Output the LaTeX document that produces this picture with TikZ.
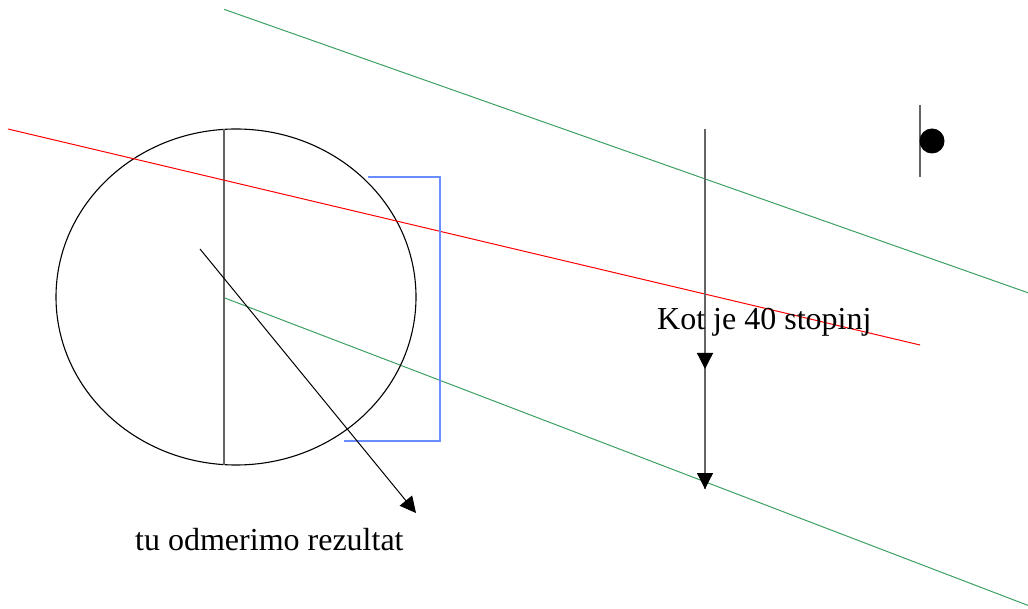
\documentclass[tikz,border=0pt]{standalone}
\usepackage{fontspec}
\setmainfont{Liberation Serif}
\usetikzlibrary{arrows.meta}
\definecolor{lgreen}{RGB}{60,160,100}
\definecolor{lblue}{RGB}{105,140,255}
\definecolor{lgrey}{RGB}{100,100,100}
\tikzset{
  greenline/.style={draw=lgreen, line width=1pt},
  redline/.style={draw=red, line width=1pt},
  blueline/.style={draw=lblue, line width=1.2pt},
  greyline/.style={draw=lgrey, line width=1.3pt},
  blackline/.style={draw=black, line width=1.1pt},
  tip/.style={-{Triangle[length=16pt,width=16pt,color=black]}},
  label/.style={inner sep=0pt, anchor=base west, font=\fontsize{32}{38}\selectfont}
}
\begin{document}
\begin{tikzpicture}[x=1pt,y=-1pt]
\useasboundingbox (0,0) rectangle (1028,609);
\clip (0,0) rectangle (1028,609);
% coordinates
\coordinate (gt1) at (224,9.3);
\coordinate (gt2) at (1040,297);
\coordinate (gb1) at (224,297.7);
\coordinate (gb2) at (1040,610);
\coordinate (r1) at (8,129);
\coordinate (r2) at (920,345);
\coordinate (v1) at (224,129.5);
\coordinate (v2) at (224,465);
\coordinate (a1) at (200,249);
\coordinate (a2) at (416,513);
\coordinate (k1) at (705,129);
\coordinate (k2) at (705,369);
\coordinate (k3) at (705,489);
\coordinate (s1) at (920,105);
\coordinate (s2) at (920,177);
\coordinate (b1) at (368,177);
\coordinate (b2) at (440,177);
\coordinate (b3) at (440,441);
\coordinate (b4) at (344,441);
% green lines
\draw[greenline] (gt1) -- (gt2);
\draw[greenline] (gb1) -- (gb2);
% ellipse
\draw[blackline] (236,297) ellipse [x radius=180, y radius=168];
% vertical in circle
\draw[greyline] (v1) -- (v2);
% red line
\draw[redline] (r1) -- (r2);
% blue bracket
\draw[blueline] (b1) -- (b2) -- (b3) -- (b4);
% arrow
\draw[blackline, line width=1pt, tip] (a1) -- (a2);
% vertical arrow
\draw[greyline] (k1) -- (k3);
\draw[greyline, tip] (k1) -- (k2);
\draw[greyline, tip] (k2) -- (k3);
% small line and dot
\draw[greyline] (s1) -- (s2);
\fill[black] (932,141) circle [radius=12.5];
% texts
\node[label] (kot) at (657,330) {Kot je 40 stopinj};
\node[label] (tu) at (135,550) {tu odmerimo rezultat};
\end{tikzpicture}
\end{document}
